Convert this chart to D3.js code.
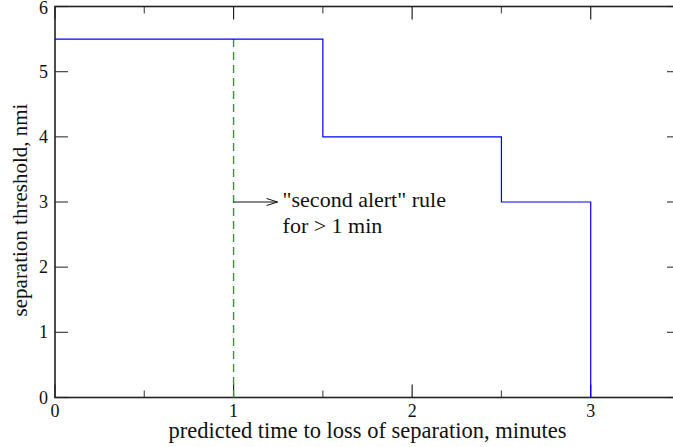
<!DOCTYPE html>
<html>
<head>
<meta charset="utf-8">
<script src="https://cdn.jsdelivr.net/npm/d3@7"></script>
<style>
  html, body { margin: 0; padding: 0; background: #fff; }
  svg { display: block; font-family: "Liberation Serif", "Times New Roman", serif; }
</style>
</head>
<body>
<svg id="chart" width="673" height="447"></svg>
<script>
// Separation threshold (nmi) as a step function of predicted time to loss of separation (minutes)
const stepTimes = [0, 1.5, 1.5, 2.5, 2.5, 3, 3];
const stepThresholds = [5.5, 5.5, 4, 4, 3, 3, 0];

// "second alert" rule marker at 1 minute
const alertTime = [1, 1];
const alertRange = [5.5, 0];

const xMajorTicks = [0, 1, 2, 3];
const xMinorTicks = [0.5, 1.5, 2.5];
const yMajorTicks = [0, 1, 2, 3, 4, 5, 6];

const xTitle = "predicted time to loss of separation, minutes";
const yTitle = "separation threshold, nmi";
const noteLines = ["\"second alert\" rule", "for > 1 min"];
const notePoint = [1, 3];

const svg = d3.select("#chart");
const plotLeft = 55, plotRight = 680, plotTop = 6.5, plotBottom = 397.5;

const x = d3.scaleLinear().domain([0, 3.5]).range([plotLeft, plotRight]);
const y = d3.scaleLinear().domain([0, 6]).range([plotBottom, plotTop]);

const axisColor = "#222";

// Tick marks (drawn inward on all four sides)
const major = 13, minor = 7;
const g = svg.append("g");
xMajorTicks.forEach(t => {
  g.append("line").attr("x1", x(t)).attr("x2", x(t)).attr("y1", plotBottom).attr("y2", plotBottom - major)
    .attr("stroke", axisColor).attr("stroke-width", 1.2);
  g.append("line").attr("x1", x(t)).attr("x2", x(t)).attr("y1", plotTop).attr("y2", plotTop + major)
    .attr("stroke", axisColor).attr("stroke-width", 1.2);
});
xMinorTicks.forEach(t => {
  g.append("line").attr("x1", x(t)).attr("x2", x(t)).attr("y1", plotBottom).attr("y2", plotBottom - minor)
    .attr("stroke", "#555").attr("stroke-width", 1.2);
  g.append("line").attr("x1", x(t)).attr("x2", x(t)).attr("y1", plotTop).attr("y2", plotTop + minor)
    .attr("stroke", "#555").attr("stroke-width", 1.2);
});
yMajorTicks.forEach(t => {
  g.append("line").attr("x1", plotLeft).attr("x2", plotLeft + major).attr("y1", y(t)).attr("y2", y(t))
    .attr("stroke", "#444").attr("stroke-width", 1.2);
  g.append("line").attr("x1", plotRight).attr("x2", plotRight - major).attr("y1", y(t)).attr("y2", y(t))
    .attr("stroke", "#444").attr("stroke-width", 1.2);
});

// Frame
svg.append("rect").attr("x", plotLeft).attr("y", plotTop)
  .attr("width", plotRight - plotLeft).attr("height", plotBottom - plotTop)
  .attr("fill", "none").attr("stroke", axisColor).attr("stroke-width", 1.6);

// Tick labels
svg.append("g").selectAll("text").data(xMajorTicks).join("text")
  .attr("x", d => x(d)).attr("y", 417)
  .attr("text-anchor", "middle").attr("font-size", 18).attr("fill", "#111")
  .text(d => d);
svg.append("g").selectAll("text").data(yMajorTicks).join("text")
  .attr("x", plotLeft - 7).attr("y", d => Math.max(y(d), 7.5)).attr("dy", "0.34em")
  .attr("text-anchor", "end").attr("font-size", 18).attr("fill", "#111")
  .text(d => d);

// Axis titles
svg.append("text").attr("x", (plotLeft + plotRight) / 2).attr("y", 438)
  .attr("text-anchor", "middle").attr("font-size", 22.5).attr("fill", "#111").text(xTitle);
svg.append("text").attr("transform", `translate(27,${(plotTop + plotBottom) / 2 + 8}) rotate(-90)`)
  .attr("text-anchor", "middle").attr("font-size", 21).attr("fill", "#111").text(yTitle);

// Dashed alert line
svg.append("path")
  .datum(alertTime.map((t, i) => [t, alertRange[i]]))
  .attr("d", d3.line().x(d => x(d[0])).y(d => y(d[1])))
  .attr("fill", "none").attr("stroke", "#2f9a2f").attr("stroke-width", 1.4)
  .attr("stroke-dasharray", "8,5");

// Threshold step line
svg.append("path")
  .datum(stepTimes.map((t, i) => [t, stepThresholds[i]]))
  .attr("d", d3.line().x(d => x(d[0])).y(d => y(d[1])))
  .attr("fill", "none").attr("stroke", "#0000ff").attr("stroke-width", 1.2);

// Annotation arrow and note
const ax = x(notePoint[0]), ay = y(notePoint[1]);
const tipX = ax + 44;
svg.append("line").attr("x1", ax).attr("y1", ay).attr("x2", tipX).attr("y2", ay)
  .attr("stroke", "#111").attr("stroke-width", 1);
svg.append("path").attr("d", `M${tipX - 11},${ay - 3.5}L${tipX},${ay}L${tipX - 11},${ay + 3.5}`)
  .attr("fill", "none").attr("stroke", "#111").attr("stroke-width", 1);
svg.append("g").selectAll("text").data(noteLines).join("text")
  .attr("x", tipX + 5).attr("y", (d, i) => ay + 5 + i * 26)
  .attr("font-size", 22).attr("fill", "#111").text(d => d);
</script>
</body>
</html>
